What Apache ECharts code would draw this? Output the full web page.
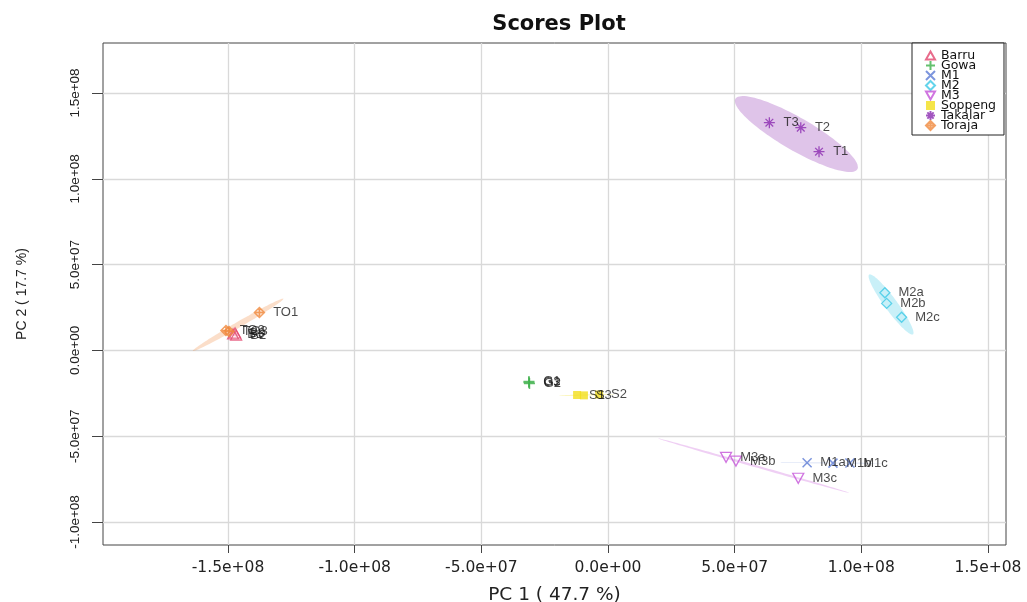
<!DOCTYPE html>
<html>
<head>
<meta charset="utf-8">
<title>Scores Plot</title>
<script src="https://cdn.jsdelivr.net/npm/echarts@6/dist/echarts.min.js"></script>
<style>
  html, body { margin: 0; padding: 0; background: #fff; }
  #chart { width: 1027px; height: 602px; }
</style>
</head>
<body>
<div id="chart"></div>
<script>
// PCA scores: [PC1, PC2, sample label]
const barru   = [[-1.480e8, 0.956e7, 'B1'], [-1.468e8, 0.897e7, 'B2'], [-1.472e8, 1.014e7, 'B3']];
const gowa    = [[-3.12e7, -1.81e7, 'G1'], [-3.10e7, -1.93e7, 'G2'], [-3.12e7, -1.87e7, 'G3']];
const m1      = [[7.86e7, -6.55e7, 'M1a'], [8.88e7, -6.57e7, 'M1b'], [9.55e7, -6.56e7, 'M1c']];
const m2      = [[1.093e8, 3.36e7, 'M2a'], [1.100e8, 2.74e7, 'M2b'], [1.159e8, 1.93e7, 'M2c']];
const m3      = [[4.66e7, -6.23e7, 'M3a'], [5.05e7, -6.45e7, 'M3b'], [7.51e7, -7.45e7, 'M3c']];
const soppeng = [[-1.22e7, -2.60e7, 'S1'], [-3.5e6, -2.57e7, 'S2'], [-9.5e6, -2.62e7, 'S3']];
const takalar = [[8.33e7, 1.158e8, 'T1'], [7.61e7, 1.298e8, 'T2'], [6.37e7, 1.327e8, 'T3']];
const toraja  = [[-1.376e8, 2.21e7, 'TO1'], [-1.508e8, 1.16e7, 'TO2'], [-1.496e8, 1.10e7, 'TO3']];

const groupNames = ['Barru', 'Gowa', 'M1', 'M2', 'M3', 'Soppeng', 'Takalar', 'Toraja'];
const groupData  = [barru, gowa, m1, m2, m3, soppeng, takalar, toraja];

const xTicks = [-1.5e8, -1.0e8, -5.0e7, 0, 5.0e7, 1.0e8, 1.5e8];
const yTicks = [-1.0e8, -5.0e7, 0, 5.0e7, 1.0e8, 1.5e8];

// Marker styles per group
const colors = ['#E2466E', '#3DB04A', '#5B7BD5', '#3CC9E6', '#C452D8', '#F2DE1B', '#8B2BB0', '#F0883C'];
const symbols = [
  'path://M5,0L10,8.66L0,8.66Z',                                  // open triangle
  'path://M0,5L10,5M5,0L5,10',                                    // plus
  'path://M0,0L10,10M10,0L0,10',                                  // cross
  'path://M5,0L10,5L5,10L0,5Z',                                   // open diamond
  'path://M0,0L10,0L5,8.66Z',                                     // open down triangle
  'rect',                                                          // filled square
  'path://M0,5L10,5M5,0L5,10M1.5,1.5L8.5,8.5M8.5,1.5L1.5,8.5',   // asterisk
  'path://M5,0L10,5L5,10L0,5ZM0,5L10,5M5,0L5,10'                  // diamond with plus
];
const filled = [false, false, false, false, false, true, false, false];
const symbolSizes = [[11, 10], 11, 9, 10, [11, 10], 8, 11, 10];
const strokeWidths = [1.3, 1.5, 1.5, 1.3, 1.3, 0, 1.3, 1.5];

// 95% normal-theory confidence ellipse of each group's scores
function ellipse(points, level) {
  const n = points.length;
  const mx = points.reduce((s, p) => s + p[0], 0) / n;
  const my = points.reduce((s, p) => s + p[1], 0) / n;
  let sxx = 0, syy = 0, sxy = 0;
  points.forEach(p => {
    sxx += (p[0] - mx) * (p[0] - mx);
    syy += (p[1] - my) * (p[1] - my);
    sxy += (p[0] - mx) * (p[1] - my);
  });
  sxx /= (n - 1); syy /= (n - 1); sxy /= (n - 1);
  const sx = Math.sqrt(sxx), sy = Math.sqrt(syy);
  let r = sxy / (sx * sy);
  r = Math.max(-1, Math.min(1, r));
  const t = Math.sqrt(-2 * Math.log(1 - level)); // sqrt(qchisq(level, 2))
  const d = Math.acos(r);
  const out = [];
  for (let k = 0; k < 100; k++) {
    const a = -Math.PI + 2 * Math.PI * k / 100;
    out.push([mx + t * sx * Math.cos(a + d / 2), my + t * sy * Math.cos(a - d / 2)]);
  }
  return { center: [mx, my], pts: out };
}
const ellipses = groupData.map(g => ellipse(g, 0.95));

function hexA(hex, a) {
  const v = parseInt(hex.slice(1), 16);
  return 'rgba(' + (v >> 16) + ',' + ((v >> 8) & 255) + ',' + (v & 255) + ',' + a + ')';
}

// R-style scientific tick labels, e.g. -1.5e+08
function sci(v) {
  if (Math.abs(v) < 1e-9) return '0.0e+00';
  let e = Math.floor(Math.log10(Math.abs(v)));
  let m = v / Math.pow(10, e);
  if (Math.abs(Math.round(m * 10) / 10) >= 10) { e += 1; m = v / Math.pow(10, e); }
  const es = (e < 0 ? '-' : '+') + String(Math.abs(e)).padStart(2, '0');
  return m.toFixed(1) + 'e' + es;
}

const chart = echarts.init(document.getElementById('chart'), null, { renderer: 'canvas' });

const scatterSeries = groupNames.map((name, i) => ({
  name: name,
  type: 'scatter',
  z: 3,
  symbol: symbols[i],
  symbolSize: symbolSizes[i],
  itemStyle: filled[i]
    ? { color: colors[i], borderWidth: 0 }
    : { color: 'rgba(0,0,0,0)', borderColor: colors[i], borderWidth: strokeWidths[i] },
  label: {
    show: true,
    position: 'right',
    distance: 8,
    formatter: '{b}',
    fontFamily: 'Liberation Sans, Arial, sans-serif',
    fontSize: 13,
    color: '#1a1a1a'
  },
  emphasis: { disabled: true },
  data: groupData[i].map(p => ({ name: p[2], value: [p[0], p[1]] }))
}));

const ellipseSeries = {
  name: 'confidence regions',
  type: 'custom',
  z: 1,
  silent: true,
  clip: true,
  encode: { x: 0, y: 1 },
  data: ellipses.map((e, i) => [e.center[0], e.center[1], i]),
  renderItem: function (params, api) {
    const i = api.value(2);
    const pts = ellipses[i].pts.map(p => api.coord(p));
    return {
      type: 'polygon',
      shape: { points: pts },
      style: { fill: hexA(colors[i], 0.28), stroke: null }
    };
  }
};

const option = {
  animation: false,
  backgroundColor: '#fff',
  title: {
    text: 'Scores Plot',
    left: 554,
    top: 9,
    textAlign: 'center',
    textStyle: { fontFamily: 'DejaVu Sans, sans-serif', fontWeight: 'bold', fontSize: 21, color: '#111' }
  },
  grid: {
    left: 103, right: 21, top: 43, bottom: 57,
    outerBoundsMode: 'none',
    containLabel: false,
    show: true, borderColor: '#444', borderWidth: 1, backgroundColor: '#fff'
  },
  legend: {
    data: groupNames,
    orient: 'vertical',
    left: 912,
    top: 43,
    padding: [6, 8, 3, 13],
    itemGap: -3,
    itemWidth: 9,
    itemHeight: 9,
    backgroundColor: '#fff',
    borderColor: '#222',
    borderWidth: 1,
    borderRadius: 0,
    selectedMode: false,
    textStyle: { fontFamily: 'DejaVu Sans, sans-serif', fontSize: 12.5, color: '#111', padding: [0, 0, 0, 1] }
  },
  xAxis: {
    type: 'value',
    min: -1.9934e8,
    max: 1.5711e8,
    name: 'PC 1 ( 47.7 %)',
    nameLocation: 'middle',
    nameGap: 41,
    nameTextStyle: { fontFamily: 'DejaVu Sans, sans-serif', fontSize: 18.5, color: '#222' },
    axisLine: { show: false, onZero: false },
    axisTick: { show: true, length: 8, customValues: xTicks, lineStyle: { color: '#444' } },
    axisLabel: {
      customValues: xTicks,
      formatter: sci,
      margin: 15,
      fontFamily: 'DejaVu Sans, sans-serif',
      fontSize: 15.5,
      color: '#222'
    },
    splitLine: { show: true, lineStyle: { color: '#d9d9d9', width: 1.3 } }
  },
  yAxis: {
    type: 'value',
    min: -1.134e8,
    max: 1.7914e8,
    name: 'PC 2 ( 17.7 %)',
    nameLocation: 'middle',
    nameGap: 74,
    nameTextStyle: { fontFamily: 'Liberation Sans, Arial, sans-serif', fontSize: 14, color: '#222' },
    axisLine: { show: false, onZero: false },
    axisTick: { show: true, length: 11, customValues: yTicks, lineStyle: { color: '#444' } },
    axisLabel: {
      customValues: yTicks,
      formatter: sci,
      rotate: 90,
      margin: 21,
      fontFamily: 'Liberation Sans, Arial, sans-serif',
      fontSize: 13.5,
      color: '#222'
    },
    splitLine: { show: true, lineStyle: { color: '#d9d9d9', width: 1.3 } }
  },
  series: [ellipseSeries].concat(scatterSeries)
};

chart.setOption(option);
</script>
</body>
</html>
